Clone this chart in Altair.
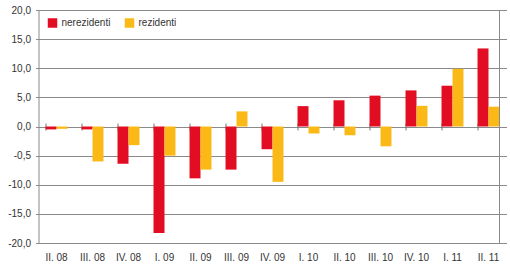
import altair as alt
import pandas as pd

# Quarterly values, per cent
quarters = ["II. 08", "III. 08", "IV. 08", "I. 09", "II. 09", "III. 09", "IV. 09",
            "I. 10", "II. 10", "III. 10", "IV. 10", "I. 11", "II. 11"]
nerezidenti = [-0.5, -0.5, -6.4, -18.3, -8.9, -7.4, -3.9, 3.5, 4.5, 5.3, 6.2, 7.0, 13.4]
rezidenti = [-0.4, -6.0, -3.2, -5.0, -7.4, 2.6, -9.5, -1.2, -1.5, -3.4, 3.55, 9.9, 3.4]
series = ["nerezidenti", "rezidenti"]
colors = ["#E30D23", "#FBB917"]

y_ticks = [20, 15, 10, 5, 0, -5, -10, -15, -20]
y_labels = ["20,0", "15,0", "10,0", "5,0", "0,0", "-0,5", "-10,0", "-15,0", "-20,0"]

rows = []
for q, a, b in zip(quarters, nerezidenti, rezidenti):
    rows.append({"q": q, "s": series[0], "v": a})
    rows.append({"q": q, "s": series[1], "v": b})
df = pd.DataFrame(rows)

label_expr = " : ".join(
    f"datum.value == {v} ? '{t}'" for v, t in zip(y_ticks, y_labels)
) + " : ''"

FONT = "Liberation Sans"
TXT = "#333333"
GRID = "#8a8a8a"
W, H = 468, 233

xscale = alt.Scale(domain=quarters, paddingInner=0.39, paddingOuter=0.195)
yscale = alt.Scale(domain=[-20, 20], nice=False)
yaxis = alt.Axis(values=y_ticks, labelExpr=label_expr, labelOverlap=False,
                 grid=True, gridColor=GRID, gridWidth=1, domainColor=GRID,
                 tickColor=GRID, tickSize=3, labelPadding=5,
                 labelFont=FONT, labelFontSize=10, labelColor=TXT)

bars = alt.Chart(df).mark_bar().encode(
    x=alt.X("q:N", sort=quarters, scale=xscale, title=None,
            axis=alt.Axis(orient="bottom", domain=False, ticks=False, labelAngle=0,
                          labelPadding=9, labelFont=FONT, labelFontSize=10,
                          labelColor=TXT)),
    xOffset=alt.XOffset("s:N", sort=series, scale=alt.Scale(paddingInner=0, paddingOuter=0)),
    y=alt.Y("v:Q", scale=yscale, title=None, axis=yaxis),
    color=alt.Color("s:N", sort=series, scale=alt.Scale(domain=series, range=colors),
                    legend=alt.Legend(title=None, orient="none", legendX=9, legendY=8,
                                      direction="horizontal", symbolType="square",
                                      symbolSize=90, symbolStrokeWidth=0,
                                      labelFont=FONT, labelFontSize=10,
                                      labelColor=TXT, columnPadding=14,
                                      symbolOpacity=1)),
)

# band-boundary ticks along the zero line
zero_ticks = alt.Chart(df).mark_point(opacity=0).encode(
    x=alt.X("q:N", sort=quarters, scale=xscale, title=None,
            axis=alt.Axis(orient="top", labels=False, domain=False, ticks=True,
                          bandPosition=0, tickSize=7, tickColor="#777777",
                          tickWidth=1, offset=-(H / 2) - 3.5)),
    y=alt.Y("v:Q", scale=yscale, title=None, axis=yaxis),
)

# right-hand frame line
frame = alt.Chart(df).mark_rule(color=GRID, strokeWidth=1).encode(
    x=alt.value(W - 7), y=alt.value(0), y2=alt.value(H)
)

chart = alt.layer(bars, zero_ticks, frame).properties(
    width=W, height=H,
    autosize=alt.AutoSizeParams(type="none"),
    padding={"left": 38.5, "top": 10, "right": 3.5, "bottom": 29},
).configure_view(stroke=None)

chart.save("out.html", embed_options={"renderer": "svg", "actions": False})
